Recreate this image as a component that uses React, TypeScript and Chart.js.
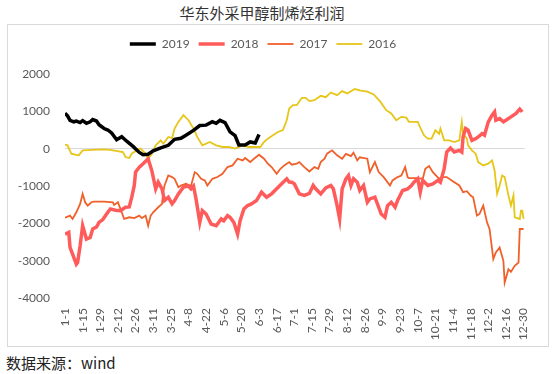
import React, { useEffect, useRef } from 'react';
import { Chart, registerables } from 'chart.js';

Chart.register(...registerables);

const tickLabels = ['1-1', '1-15', '1-29', '2-12', '2-26', '3-11', '3-25', '4-8', '4-22', '5-6', '5-20', '6-3', '6-17', '7-1', '7-15', '7-29', '8-12', '8-26', '9-9', '9-23', '10-7', '10-21', '11-4', '11-18', '12-2', '12-16', '12-30'];

const seriesNames = ['2019', '2018', '2017', '2016'];

const days2019 = [0, 2, 4, 7, 9, 12, 14, 17, 20, 22, 25, 27, 31, 34, 37, 41, 45, 49, 54, 59, 62, 66, 70, 76, 82, 87, 92, 96, 102, 107, 112, 117, 120, 123, 127, 131, 135, 138, 143, 147, 151, 154];
const vals2019 = [950, 880, 760, 720, 740, 700, 750, 680, 720, 780, 740, 640, 540, 500, 420, 240, 320, 200, 60, -100, -160, -150, -60, 20, 90, 250, 280, 360, 490, 620, 630, 720, 680, 760, 700, 450, 350, 100, 100, 180, 150, 380];

const days2018 = [0, 3, 4, 6, 9, 10, 12, 14, 17, 20, 22, 25, 27, 30, 34, 36, 40, 44, 48, 51, 53, 55, 56, 59, 62, 66, 69, 72, 74, 77, 79, 82, 85, 87, 90, 94, 98, 100, 102, 104, 107, 109, 112, 116, 120, 124, 126, 129, 131, 134, 137, 139, 142, 145, 148, 152, 156, 160, 164, 168, 172, 176, 178, 180, 182, 186, 190, 194, 197, 199, 203, 207, 211, 213, 216, 218, 220, 223, 225, 227, 229, 232, 234, 237, 240, 242, 246, 249, 251, 254, 256, 259, 262, 264, 268, 272, 275, 277, 280, 282, 284, 288, 292, 296, 298, 301, 303, 306, 309, 313, 315, 316, 318, 320, 323, 326, 328, 331, 333, 336, 339, 341, 342, 345, 348, 350, 354, 358, 361, 363];
const vals2018 = [-2287, -2242, -2645, -2825, -3094, -3050, -2600, -2063, -2421, -2380, -2152, -2100, -1973, -1900, -1704, -1614, -1650, -1659, -1569, -1560, -1300, -986, -628, -493, -403, -269, -600, -1076, -897, -1076, -1390, -1300, -1480, -1390, -1210, -1031, -1000, -1076, -1000, -1345, -1973, -1659, -1750, -2018, -2063, -1883, -1930, -1793, -1838, -1973, -2287, -1930, -1614, -1524, -1480, -1390, -1165, -1300, -1210, -1076, -942, -807, -897, -900, -942, -1210, -1250, -1200, -986, -1076, -1210, -1050, -986, -1076, -1524, -1883, -1076, -807, -717, -986, -807, -900, -1121, -986, -1435, -1345, -1300, -1569, -1749, -1838, -1524, -1435, -1569, -1390, -1121, -1076, -986, -900, -807, -1165, -850, -986, -942, -850, -900, -538, -90, 18, -90, -45, -90, 314, 538, 493, 224, 269, 314, 403, 358, 717, 897, 986, 762, 807, 717, 762, 852, 942, 1058, 986];

const days2017 = [0, 4, 6, 9, 12, 14, 16, 18, 21, 23, 31, 38, 39, 42, 44, 47, 51, 55, 59, 61, 64, 66, 68, 70, 74, 77, 78, 79, 82, 85, 87, 90, 92, 96, 100, 103, 105, 108, 111, 113, 117, 121, 125, 129, 133, 137, 141, 143, 147, 150, 154, 158, 161, 164, 168, 171, 174, 178, 180, 184, 186, 190, 194, 198, 201, 203, 206, 208, 212, 216, 220, 223, 227, 229, 232, 234, 240, 242, 246, 249, 253, 258, 260, 264, 267, 270, 272, 273, 279, 284, 286, 289, 292, 294, 297, 299, 303, 307, 313, 316, 319, 322, 324, 327, 329, 332, 335, 337, 340, 342, 345, 348, 349, 352, 354, 357, 360, 361, 364];
const vals2017 = [-1850, -1793, -1883, -1704, -1480, -1210, -1435, -1524, -1435, -1420, -1420, -1435, -1506, -1435, -1614, -1883, -1838, -1860, -1793, -1860, -1793, -2063, -1793, -1704, -1569, -1480, -1165, -986, -717, -762, -807, -1031, -990, -942, -1000, -628, -673, -807, -850, -986, -807, -760, -673, -493, -448, -269, -314, -250, -359, -269, -161, -269, -403, -493, -673, -538, -448, -359, -430, -400, -359, -493, -610, -493, -538, -359, -269, -134, -45, -179, -269, -140, -200, -108, -314, -230, -269, -628, -359, -628, -762, -986, -850, -762, -720, -493, -762, -789, -789, -807, -538, -466, -628, -700, -807, -762, -762, -852, -986, -1165, -1140, -1255, -1300, -1793, -1750, -1524, -1973, -2152, -2959, -2780, -2645, -3004, -3587, -3228, -3300, -3139, -3049, -2152, -2152];

const days2016 = [0, 2, 5, 8, 11, 14, 22, 30, 36, 46, 48, 51, 53, 57, 60, 64, 66, 69, 72, 76, 78, 82, 85, 87, 90, 94, 98, 102, 105, 109, 115, 120, 125, 130, 135, 141, 146, 151, 155, 158, 161, 165, 169, 173, 176, 178, 181, 184, 188, 191, 194, 198, 203, 207, 211, 216, 220, 224, 230, 234, 240, 245, 250, 255, 259, 263, 267, 271, 273, 280, 283, 285, 288, 291, 294, 297, 298, 301, 305, 309, 313, 315, 316, 319, 320, 323, 326, 328, 332, 336, 339, 341, 343, 345, 347, 349, 352, 354, 356, 357, 361, 362, 363, 364];
const vals2016 = [110, 90, -134, -161, -180, -45, -30, -20, -30, -90, -224, -250, -134, -45, 0, -134, -269, -134, 90, 224, 130, 314, 280, 538, 717, 897, 762, 538, 314, 90, 179, 90, 45, 45, 0, 90, 45, 45, 45, 179, 269, 358, 448, 500, 762, 1076, 1165, 1165, 1363, 1363, 1273, 1300, 1417, 1380, 1506, 1434, 1542, 1480, 1596, 1560, 1525, 1453, 1273, 1031, 942, 762, 852, 830, 717, 717, 493, 358, 269, 269, 493, 400, 538, 224, 224, 179, 224, 717, 403, 269, 90, -45, -134, -359, -448, -403, -314, -583, -1210, -986, -717, -760, -1255, -1524, -1255, -1838, -1883, -1659, -1659, -1883];

const FONT = 'Lato, "Noto Sans", sans-serif';
const CJK = '"Noto Sans CJK SC", "Noto Sans", sans-serif';

const legendTune = {
  id: 'legendTune',
  beforeLayout(chart: any) {
    const lg = chart.legend;
    if (lg && !lg._tuned) {
      const f = lg.fit;
      lg.fit = function () {
        f.call(this);
        this.height += 14;
      };
      lg._tuned = true;
    }
  },
  afterLayout(chart: any) {
    const lg = chart.legend;
    if (lg) {
      lg.left -= 7;
      lg.right -= 7;
    }
  },
};

export default function App() {
  const ref = useRef<HTMLCanvasElement>(null);

  useEffect(() => {
    const toPts = (d: number[], v: number[]) => d.map((x, i) => ({ x, y: v[i] }));
    const mk = (label: string, d: number[], v: number[], color: string, w: number) => ({
      label,
      data: toPts(d, v),
      borderColor: color,
      backgroundColor: color,
      borderWidth: w,
      pointRadius: 0,
      tension: 0,
      fill: false,
    });
    const chart = new Chart(ref.current as HTMLCanvasElement, {
      type: 'line',
      data: {
        datasets: [
          mk(seriesNames[0], days2019, vals2019, '#000000', 3.5),
          mk(seriesNames[1], days2018, vals2018, '#ff5b5b', 3.5),
          mk(seriesNames[2], days2017, vals2017, '#f0602a', 1.8),
          mk(seriesNames[3], days2016, vals2016, '#e6c619', 1.8),
        ],
      },
      options: {
        animation: false,
        responsive: false,
        maintainAspectRatio: false,
        layout: { padding: { top: 4, right: 16, bottom: 0, left: 0 } },
        plugins: {
          legend: {
            position: 'top',
            labels: {
              usePointStyle: true,
              pointStyle: 'line',
              pointStyleWidth: 26,
              padding: 9,
              color: '#595959',
              font: { size: 12, family: FONT },
            },
          },
          tooltip: { enabled: false },
        },
        scales: {
          x: {
            type: 'linear',
            min: 0,
            max: 365,
            afterBuildTicks: (s: any) => {
              s.ticks = tickLabels.map((_, i) => ({ value: i * 14 }));
            },
            afterFit: (s: any) => {
              s.height = 48;
            },
            grid: { display: false, drawTicks: false },
            border: { display: false },
            ticks: {
              autoSkip: false,
              maxRotation: 90,
              minRotation: 90,
              padding: 10,
              color: '#595959',
              font: { size: 12, family: FONT },
              callback: (v: any) => tickLabels[Math.round(Number(v) / 14)] ?? '',
            },
          },
          y: {
            min: -4000,
            max: 2000,
            afterFit: (s: any) => {
              s.width = 57;
            },
            grid: {
              drawTicks: false,
              color: (c: any) => (c.tick && c.tick.value === 0 ? '#d9d9d9' : 'rgba(0,0,0,0)'),
              lineWidth: 1,
            },
            border: { display: false },
            ticks: {
              stepSize: 1000,
              padding: 15,
              color: '#595959',
              font: { size: 12, family: FONT },
              callback: (v: any) => String(v),
            },
          },
        },
      },
      plugins: [legendTune],
    } as any);
    return () => chart.destroy();
  }, []);

  return (
    <div style={{ position: 'absolute', left: 0, top: 0, width: 554, height: 374, background: '#ffffff', overflow: 'hidden' }}>
      <div style={{ position: 'absolute', left: 0, top: 3, width: 524, textAlign: 'center', fontFamily: CJK, fontSize: 15, lineHeight: '20px', color: '#333333' }}>
        华东外采甲醇制烯烃利润
      </div>
      <div style={{ position: 'absolute', left: 7, top: 24, width: 542, height: 323, boxSizing: 'border-box', border: '1px solid #d9d9d9' }}>
        <canvas ref={ref} width={540} height={321} style={{ position: 'absolute', left: 0, top: 0, width: 540, height: 321 }} />
      </div>
      <div style={{ position: 'absolute', left: 6, top: 353, fontFamily: CJK, fontSize: 15, lineHeight: '20px', color: '#222222' }}>
        数据来源：wind
      </div>
    </div>
  );
}
